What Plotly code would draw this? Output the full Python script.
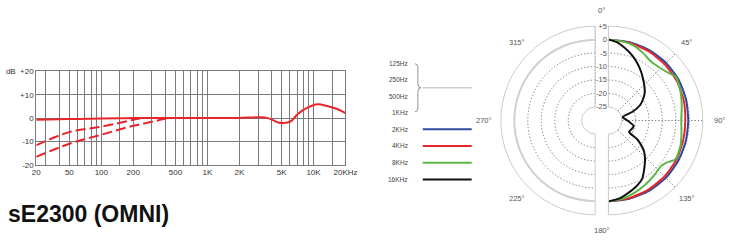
import math
import plotly.graph_objects as go

W, H = 742, 242

# ---------------- Frequency response data ----------------
freq_solid = [24.4, 40, 60, 100, 150, 200, 500, 1000, 2000, 2700, 3200, 3700, 4200, 4650,
              5200, 5700, 6200, 7100, 8800, 10900, 13400, 16700, 20000]
db_solid = [-0.7, -0.5, -0.35, -0.2, -0.05, 0, 0, 0, 0.05, 0.3, 0.4, 0.0, -1.0, -1.9,
            -2.1, -1.9, -1.2, 1.8, 4.5, 5.9, 5.2, 3.9, 2.1]
freq_cut1 = [24.4, 50, 100, 150, 200, 250]
db_cut1 = [-11.6, -6.0, -3.7, -2.0, -0.7, 0.0]
freq_cut2 = [24.4, 50, 100, 200, 300, 400, 450]
db_cut2 = [-16.6, -11.0, -7.1, -3.3, -1.6, -0.3, 0.0]

grid_freqs = [24.4, 30, 40, 50, 60, 70, 80, 90, 100, 150, 200, 300, 400, 500, 600, 700, 800,
              900, 1000, 2000, 3000, 4000, 5000, 6000, 7000, 8000, 9000, 10000, 15000, 20000]
grid_labels = {24.4: "20", 50: "50", 100: "100", 200: "200", 500: "500", 1000: "1K",
               2000: "2K", 5000: "5K", 10000: "10K", 20000: "20KHz"}
db_ticks = [20, 10, 0, -10, -20]
db_tick_text = ["dB  +20", "+10", "0", "-10", "-20"]

# ---------------- Polar data ----------------
theta_main = [0, 15, 30, 45, 60, 75, 90, 105, 120, 135, 150, 165, 180]
r_2k = [0, 0.1, 0.2, 0.2, 0.1, -0.2, -0.4, -0.3, -0.1, 0.1, 0.1, 0.05, 0]
r_4k = [0, -0.1, -0.3, -0.5, -0.7, -1.1, -1.5, -1.3, -0.9, -0.6, -0.4, -0.2, 0]
theta_8k = [0, 10, 19, 28, 34, 40, 46, 52, 57, 65, 72, 80, 90, 100, 109, 120, 126, 131,
            140, 150, 160, 170, 180]
r_8k = [0, -0.2, -0.7, -2.0, -2.9, -3.0, -2.5, -1.5, -0.2, -0.9, -1.6, -2.4, -3.0, -2.5,
        -1.7, -1.3, -3.4, -4.2, -3.5, -2.6, -1.5, -0.5, 0]
theta_16k = [0, 6, 12, 20, 27, 34, 40, 46, 52, 58, 64, 70, 76, 90, 102, 110, 119, 123,
             126, 131, 137, 144, 150, 158, 165, 172, 180]
r_16k = [0, -0.8, -2.2, -4.3, -6.3, -8.3, -10.0, -11.5, -12.9, -14.8, -16.9, -20.5, -24.6,
         -23.0, -20.4, -20.8, -21.3, -17.4, -15.4, -12.5, -10.1, -7.5, -5.0, -3.3, -2.1, -0.8, 0]
theta_low = [180, 200, 220, 240, 260, 280, 300, 320, 340, 360]
r_low = [0, 0, 0, 0, 0, 0, 0, 0, 0, 0]

radial_ticks = [-25, -20, -15, -10, -5, 0, 5]
radial_text = ["-25", "-20", "-15", "-10", "-5", "0", "+5"]
angle_ticks = [0, 45, 90, 135, 180, 225, 270, 315]

legend_labels = ["2KHz", "4KHz", "8KHz", "16KHz"]
legend_low_labels = ["125Hz", "250Hz", "500Hz", "1KHz"]

RED = "#e8262a"
BLUE = "#2b4c9e"
GREEN = "#5cb646"
BLACK = "#111111"
LGRAY = "#d3d0cb"
GRID = "#7a7a7a"
PGRID = "#7c7c7c"
TXT = "#444444"
FONT = "Liberation Sans"


def px(x):
    return x / W


def py(y):
    return 1 - y / H


fig = go.Figure()

# frequency response curves
fig.add_trace(go.Scatter(x=freq_cut2, y=db_cut2, mode="lines",
                         line=dict(color=RED, width=2, dash="10px,4px", shape="spline"),
                         xaxis="x", yaxis="y", showlegend=False))
fig.add_trace(go.Scatter(x=freq_cut1, y=db_cut1, mode="lines",
                         line=dict(color=RED, width=2, dash="10px,4px", shape="spline"),
                         xaxis="x", yaxis="y", showlegend=False))
fig.add_trace(go.Scatter(x=freq_solid, y=db_solid, mode="lines",
                         line=dict(color=RED, width=2, shape="spline"),
                         xaxis="x", yaxis="y", showlegend=False))

# polar (right half)
for th, rr, col in [(theta_main, r_2k, BLUE), (theta_main, r_4k, RED),
                    (theta_8k, r_8k, GREEN), (theta_16k, r_16k, BLACK)]:
    fig.add_trace(go.Scatterpolar(theta=th, r=rr, mode="lines", subplot="polar",
                                  line=dict(color=col, width=2, shape="spline", smoothing=0.6),
                                  showlegend=False))
# polar (left half)
fig.add_trace(go.Scatterpolar(theta=theta_low, r=r_low, mode="lines", subplot="polar2",
                              line=dict(color=LGRAY, width=2, shape="spline"),
                              showlegend=False))

tickfont = dict(family=FONT, size=8, color="#333333")
ptickfont = dict(family=FONT, size=7.5, color="#555555")

common_radial = dict(range=[-25, 5], tickvals=radial_ticks, ticktext=radial_text,
                     angle=90, side="counterclockwise", showline=False, ticks="",
                     tickangle=90, gridcolor=PGRID, griddash="1.3px,2px", gridwidth=1.2,
                     tickfont=ptickfont)
common_angular = dict(rotation=90, direction="clockwise", showline=True,
                      linecolor="#cccccc", linewidth=1, ticks="",
                      showticklabels=False, gridcolor=PGRID, griddash="1.3px,2px",
                      gridwidth=1.2)

fig.update_layout(
    width=W, height=H, margin=dict(l=0, r=0, t=0, b=0),
    paper_bgcolor="white", plot_bgcolor="white", showlegend=False,
    xaxis=dict(type="log", range=[math.log10(24.4), math.log10(20000)],
               domain=[px(33), px(349)], tickvals=grid_freqs,
               ticktext=[grid_labels.get(f, "") for f in grid_freqs],
               showgrid=True, gridcolor=GRID, gridwidth=1, zeroline=False,
               showline=True, linecolor=GRID, mirror=True, ticks="",
               tickfont=tickfont, tickangle=0),
    yaxis=dict(range=[-20, 20], domain=[py(167), py(70)], tickvals=db_ticks,
               ticktext=db_tick_text, showgrid=True, gridcolor=GRID, gridwidth=1,
               zeroline=False, showline=True, linecolor=GRID, mirror=True, ticks="",
               tickfont=tickfont),
    polar=dict(
        domain=dict(x=[px(617), px(715)], y=[py(219), py(23)]),
        sector=[-90, 90], hole=1 / 7, bgcolor="rgba(0,0,0,0)",
        radialaxis=dict(**common_radial, showticklabels=True),
        angularaxis=dict(**common_angular, tickvals=[0, 45, 90, 135, 180]),
    ),
    polar2=dict(
        domain=dict(x=[px(507), px(605)], y=[py(219), py(23)]),
        sector=[90, 270], hole=1 / 7, bgcolor="rgba(0,0,0,0)",
        radialaxis=dict(**common_radial, showticklabels=False),
        angularaxis=dict(**common_angular, tickvals=[0, 180, 225, 270, 315]),
    ),
)

# angular labels placed just outside the outer ring
cy = 121
for a in angle_ticks:
    if a in (0, 180):
        cx = 611
    elif a < 180:
        cx = 617
    else:
        cx = 605
    rad = math.radians(a)
    lx = cx + 114 * math.sin(rad)
    ly = cy - 114 * math.cos(rad)
    fig.add_annotation(text=f"{a}°", x=px(lx), y=py(ly), xref="paper", yref="paper",
                       xanchor="center", yanchor="middle", showarrow=False, font=ptickfont)

# title
fig.add_annotation(text="<b>sE2300 (OMNI)</b>", x=px(2), y=py(218), xref="paper", yref="paper",
                   xanchor="left", yanchor="middle", showarrow=False,
                   font=dict(family=FONT, size=23, color="#111111"))

# custom legend
legend_font = dict(family=FONT, size=6.5, color=TXT)
for i, lab in enumerate(legend_low_labels):
    yy = 61.7 + i * 17
    fig.add_annotation(text=lab, x=px(415), y=py(yy), xref="paper", yref="paper",
                       xanchor="right", yanchor="middle", showarrow=False, font=legend_font)
brace = (f"M {px(420)},{py(62)} Q {px(423)},{py(62)} {px(423)},{py(66)} "
         f"L {px(423)},{py(83)} Q {px(423)},{py(87)} {px(426)},{py(87)} "
         f"Q {px(423)},{py(87)} {px(423)},{py(91)} L {px(423)},{py(108)} "
         f"Q {px(423)},{py(112)} {px(420)},{py(112)}")
fig.add_shape(type="path", path=brace, xref="paper", yref="paper",
              line=dict(color="#777777", width=0.8))
fig.add_shape(type="line", x0=px(428), x1=px(478), y0=py(87), y1=py(87), xref="paper",
              yref="paper", line=dict(color=LGRAY, width=1.5))
for i, (lab, col) in enumerate(zip(legend_labels, [BLUE, RED, GREEN, BLACK])):
    yy = 130 + i * 17.4
    fig.add_annotation(text=lab, x=px(415), y=py(yy), xref="paper", yref="paper",
                       xanchor="right", yanchor="middle", showarrow=False, font=legend_font)
    fig.add_shape(type="line", x0=px(428), x1=px(478), y0=py(yy), y1=py(yy), xref="paper",
                  yref="paper", line=dict(color=col, width=2))

fig.write_html("out.html")
